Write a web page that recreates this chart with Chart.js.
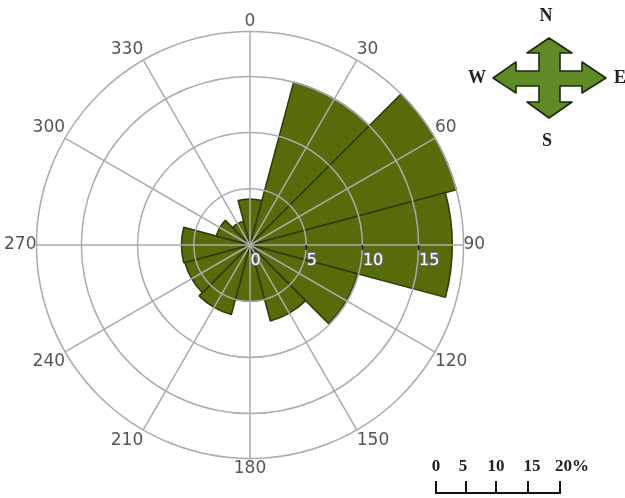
<!DOCTYPE html>
<html>
<head>
<meta charset="utf-8">
<title>Wind rose</title>
<script src="https://cdn.jsdelivr.net/npm/chart.js@4"></script>
<style>
  html, body { margin: 0; padding: 0; background: #fff; overflow: hidden; }
  #wrap { position: absolute; left: -5px; top: -4px; width: 500px; height: 498px; }
  #deco { position: absolute; left: 0; top: 0; }
</style>
</head>
<body>
<div id="wrap"><canvas id="rose"></canvas></div>
<svg id="deco" width="625" height="498" font-family="'Liberation Serif', serif" font-weight="bold" fill="#222">
  <!-- compass -->
  <polygon fill="#5f8a26" stroke="#1c2a0a" stroke-width="1.6" stroke-linejoin="round"
    points="549,38 572,53 560,53 560,71 582,71 582,62 606,78 582,93 582,86 560,86 560,102 572,102 549,118 527,102 539,102 539,86 516,86 516,93 493,78 516,62 516,71 539,71 539,53 527,53"/>
  <g font-size="18" text-anchor="middle">
    <text x="546" y="21">N</text>
    <text x="477" y="83">W</text>
    <text x="620" y="83">E</text>
    <text x="547" y="146">S</text>
  </g>
  <!-- scale bar -->
  <path d="M436 481V493H560V481M466 481V493M496 481V493M528 481V493" fill="none" stroke="#111" stroke-width="2"/>
  <g font-size="17" text-anchor="middle">
    <text x="436" y="471">0</text>
    <text x="463" y="471">5</text>
    <text x="496" y="471">10</text>
    <text x="532" y="471">15</text>
    <text x="572" y="471">20%</text>
  </g>
</svg>
<script>
// direction labels round the circle
const directions = ['0', '30', '60', '90', '120', '150', '180', '210', '240', '270', '300', '330'];
// frequency (%) per 30 degree bin, first bin 15-45, last bin 345-15
const binValues = [15, 19, 18, 9.9, 7, 5, 6.4, 6, 6.1, 3.1, 2.2, 4.1];
const radialTicks = [0, 5, 10, 15];
const maxValue = 19;

// bars sit between the spokes, so the first arc is an empty 15 degree lead-in
const leadIn = 15;
const binWidth = 30;

// tick labels run along the 90 spoke, the scale can only put them on the first one
const axisLabels = {
    id: 'axisLabels',
    afterDraw(chart) {
        const r = chart.scales.r;
        const ctx = chart.ctx;
        ctx.save();
        ctx.font = "16px 'DejaVu Sans'";
        ctx.textAlign = 'left';
        ctx.textBaseline = 'alphabetic';
        ctx.lineJoin = 'round';
        radialTicks.forEach(v => {
            const x = r.xCenter + r.getDistanceFromCenterForValue(v);
            const y = r.yCenter;
            if (v > 0) {
                ctx.strokeStyle = '#111';
                ctx.lineWidth = 1.5;
                ctx.beginPath();
                ctx.moveTo(x, y);
                ctx.lineTo(x, y + 5);
                ctx.stroke();
            }
            ctx.strokeStyle = '#6a7590';
            ctx.lineWidth = 2;
            ctx.strokeText(v, x + 0.5, y + 20);
            ctx.fillStyle = '#fff';
            ctx.fillText(v, x + 0.5, y + 20);
        });
        ctx.restore();
    }
};

new Chart(document.getElementById('rose'), {
    type: 'polarArea',
    data: {
        labels: directions,
        datasets: [{
            data: [0, ...binValues],
            angle: (c) => c.dataIndex === 0 ? leadIn : binWidth,
            backgroundColor: '#566c0b',
            borderColor: '#2c3a06',
            borderWidth: 1.5
        }]
    },
    plugins: [axisLabels],
    options: {
        responsive: true,
        maintainAspectRatio: false,
        animation: false,
        layout: { padding: 4 },
        plugins: {
            legend: { display: false },
            tooltip: { enabled: false }
        },
        scales: {
            r: {
                min: 0,
                max: maxValue,
                grid: { circular: true, color: '#ababab', lineWidth: 1.5, z: 1 },
                angleLines: { display: true, color: '#ababab', lineWidth: 1.5 },
                ticks: { display: false, stepSize: 5 },
                pointLabels: {
                    display: true,
                    centerPointLabels: false,
                    color: '#555',
                    padding: 0,
                    font: { family: "'DejaVu Sans'", size: 17 }
                }
            }
        }
    }
});
</script>
</body>
</html>
